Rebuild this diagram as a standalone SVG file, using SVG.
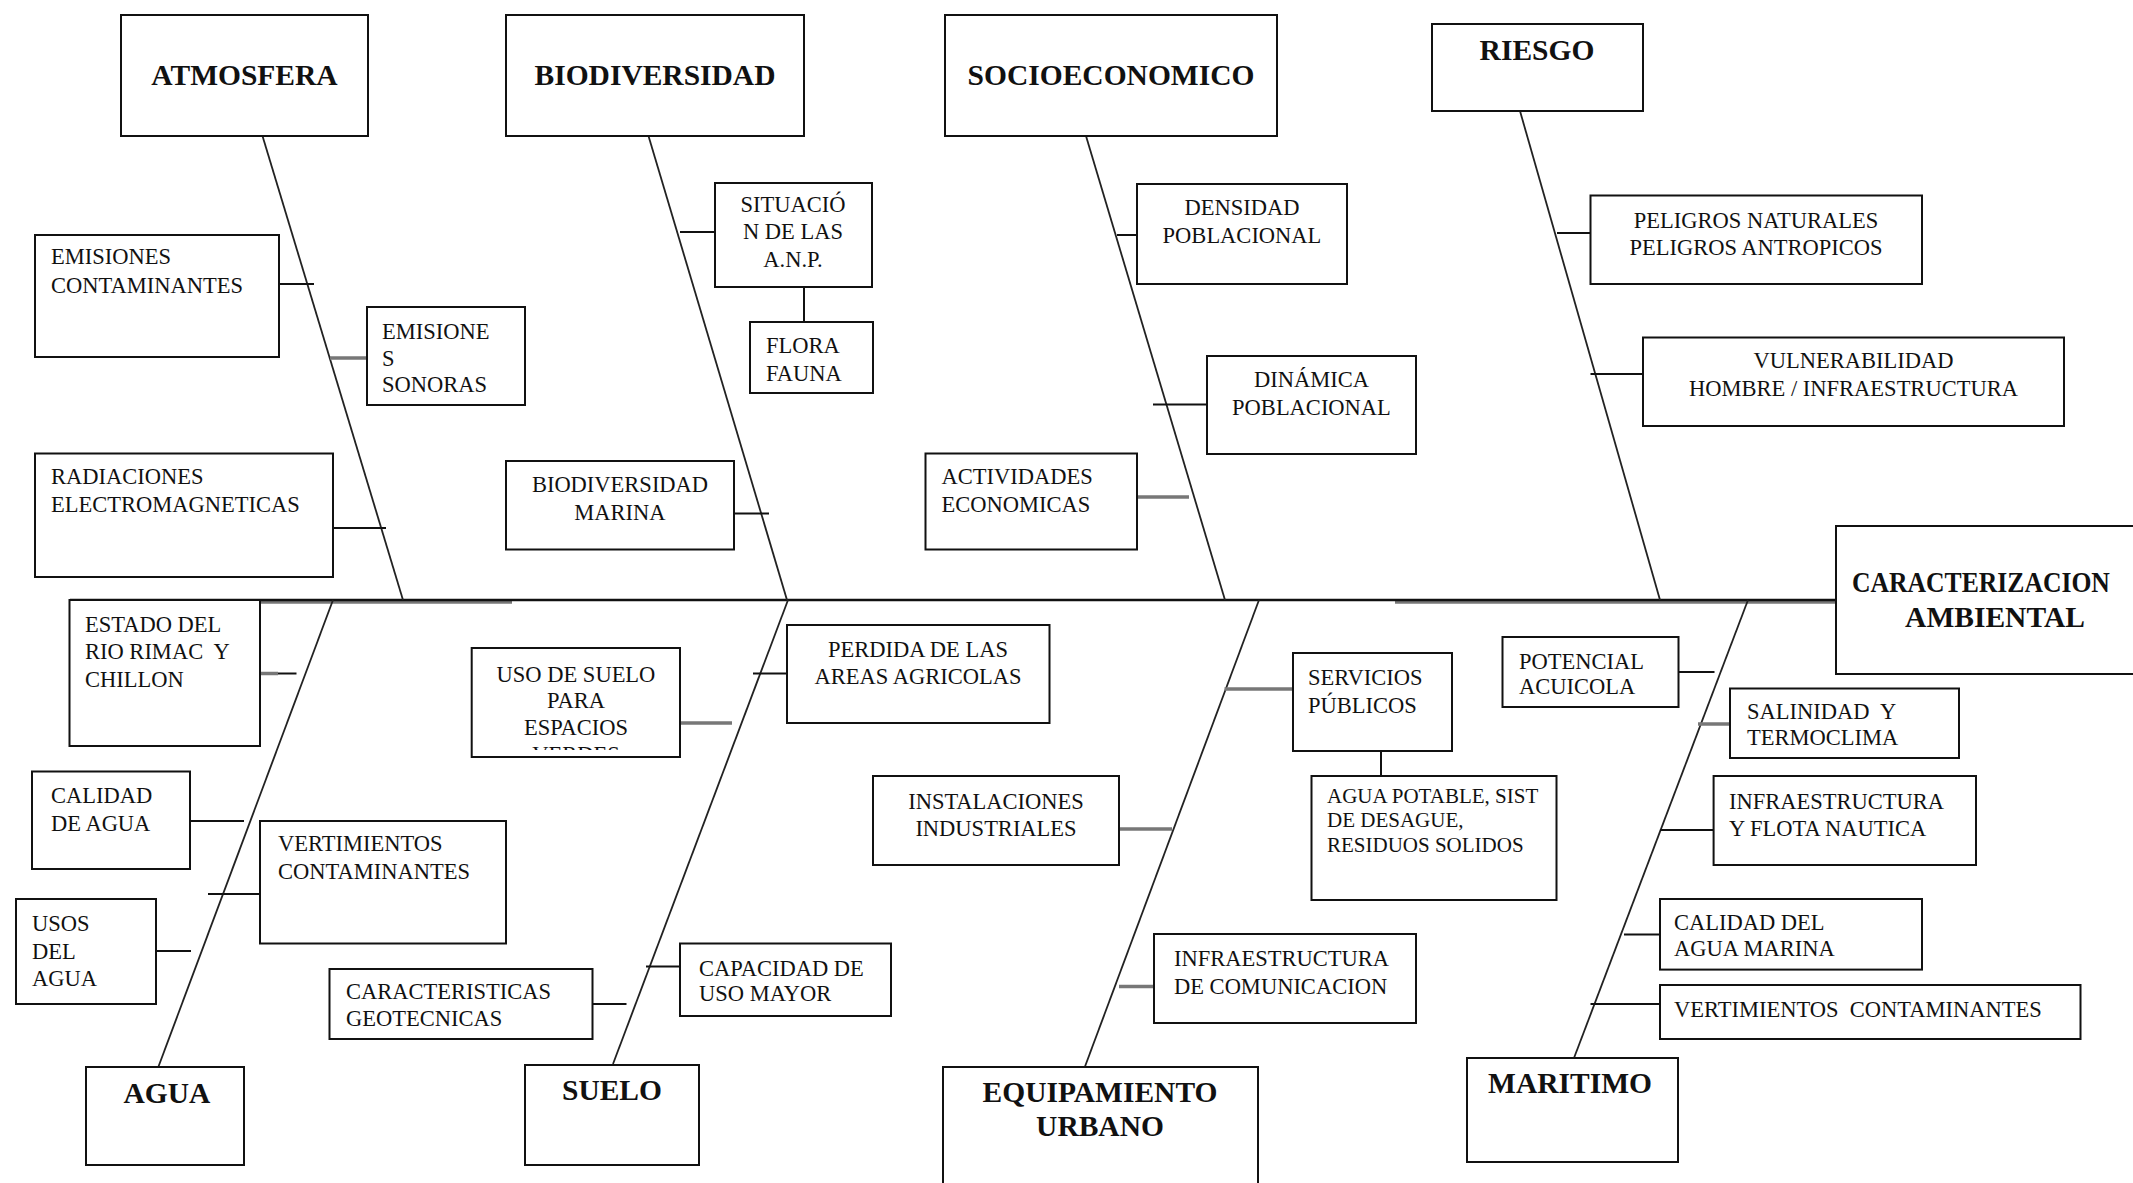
<svg xmlns="http://www.w3.org/2000/svg" width="2133" height="1183" viewBox="0 0 2133 1183">
<style>
.bg{fill:#fff}
.box{fill:#fff;stroke:#111;stroke-width:2}
.t{font-family:"Liberation Serif","Times New Roman",serif;font-size:22.5px;fill:#111;white-space:pre}
.h{font-family:"Liberation Serif","Times New Roman",serif;font-size:29.5px;font-weight:bold;fill:#111;text-anchor:middle}
.c{text-anchor:middle}
.bone{stroke:#222;stroke-width:1.8;fill:none}
.ln{stroke:#111;stroke-width:2;fill:none}
.gl{stroke:#777;stroke-width:3.5;fill:none}
</style>
<defs>
<clipPath id="clipUso"><rect x="473" y="650" width="205" height="100"/></clipPath>
</defs>
<rect class="bg" x="0" y="0" width="2133" height="1183"/>

<g id="connectors">
<line class="gl" x1="260" y1="602" x2="512" y2="602"/>
<line class="gl" x1="1395" y1="602" x2="1836" y2="602"/>
<line class="ln" x1="70" y1="600" x2="1836" y2="600" style="stroke-width:2.5"/>
<line class="bone" x1="262.5" y1="136" x2="403" y2="600"/>
<line class="bone" x1="648.5" y1="136" x2="787" y2="600"/>
<line class="bone" x1="1086" y1="136" x2="1225" y2="600"/>
<line class="bone" x1="1520" y1="111" x2="1660" y2="600"/>
<line class="bone" x1="333" y1="600" x2="158.5" y2="1066.5"/>
<line class="bone" x1="788" y1="600" x2="613" y2="1064"/>
<line class="bone" x1="1259" y1="600" x2="1085" y2="1066.5"/>
<line class="bone" x1="1748" y1="600" x2="1574" y2="1058"/>
<line class="ln" x1="279" y1="284" x2="314" y2="284"/>
<line class="gl" x1="330" y1="358" x2="367" y2="358"/>
<line class="ln" x1="333" y1="528" x2="386" y2="528"/>
<line class="ln" x1="680" y1="232" x2="715" y2="232"/>
<line class="ln" x1="804" y1="287" x2="804" y2="322"/>
<line class="ln" x1="734" y1="513.5" x2="769" y2="513.5"/>
<line class="ln" x1="1117" y1="235" x2="1137" y2="235"/>
<line class="ln" x1="1153" y1="404.5" x2="1207" y2="404.5"/>
<line class="gl" x1="1137" y1="497" x2="1189" y2="497"/>
<line class="ln" x1="1557" y1="233" x2="1590.5" y2="233"/>
<line class="ln" x1="1590.5" y1="374" x2="1643" y2="374"/>
<line class="gl" x1="260" y1="673.5" x2="278" y2="673.5"/>
<line class="ln" x1="278" y1="673.5" x2="296.5" y2="673.5"/>
<line class="ln" x1="190" y1="821" x2="244" y2="821"/>
<line class="ln" x1="208" y1="894" x2="260" y2="894"/>
<line class="ln" x1="156" y1="951" x2="191" y2="951"/>
<line class="gl" x1="680" y1="723" x2="732" y2="723"/>
<line class="ln" x1="753" y1="673.5" x2="787" y2="673.5"/>
<line class="ln" x1="592.5" y1="1004" x2="626.5" y2="1004"/>
<line class="ln" x1="646" y1="966.5" x2="680" y2="966.5"/>
<line class="gl" x1="1224.5" y1="689" x2="1293" y2="689"/>
<line class="ln" x1="1381" y1="751" x2="1381" y2="776"/>
<line class="gl" x1="1119" y1="829" x2="1172" y2="829"/>
<line class="gl" x1="1119" y1="986.5" x2="1154" y2="986.5"/>
<line class="ln" x1="1678.5" y1="672" x2="1714.5" y2="672"/>
<line class="gl" x1="1698" y1="724" x2="1730" y2="724"/>
<line class="ln" x1="1660" y1="830" x2="1713.6" y2="830"/>
<line class="ln" x1="1624" y1="934.6" x2="1660" y2="934.6"/>
<line class="ln" x1="1590.5" y1="1004" x2="1660" y2="1004"/>
</g>

<g id="atmosfera"><rect class="box" x="121" y="15" width="247" height="121"/><text class="h" x="244.5" y="85">ATMOSFERA</text></g>
<g id="biodiversidad"><rect class="box" x="506" y="15" width="298" height="121"/><text class="h" x="655" y="85">BIODIVERSIDAD</text></g>
<g id="socioeconomico"><rect class="box" x="945" y="15" width="332" height="121"/><text class="h" x="1111" y="85">SOCIOECONOMICO</text></g>
<g id="riesgo"><rect class="box" x="1432" y="24" width="211" height="87"/><text class="h" x="1537" y="60">RIESGO</text></g>
<g id="caracterizacion"><rect class="box" x="1836" y="526" width="310" height="148"/><text class="h" transform="translate(1852,592) scale(0.87,1)" x="0" y="0" style="text-anchor:start">CARACTERIZACION</text><text class="h" x="1995" y="627">AMBIENTAL</text></g>

<g id="agua"><rect class="box" x="86" y="1067" width="158" height="98"/><text class="h" x="167" y="1103">AGUA</text></g>
<g id="suelo"><rect class="box" x="525" y="1065" width="174" height="100"/><text class="h" x="612" y="1100">SUELO</text></g>
<g id="equipamiento"><rect class="box" x="943" y="1067" width="315" height="130"/><text class="h" x="1100" y="1102">EQUIPAMIENTO</text><text class="h" x="1100" y="1136">URBANO</text></g>
<g id="maritimo"><rect class="box" x="1467" y="1058" width="211" height="104"/><text class="h" x="1570" y="1093">MARITIMO</text></g>

<g id="emisiones-contaminantes"><rect class="box" x="35" y="235" width="244" height="122"/><text class="t" x="51" y="264">EMISIONES</text><text class="t" x="51" y="293">CONTAMINANTES</text></g>
<g id="emisiones-sonoras"><rect class="box" x="367" y="307" width="158" height="98"/><text class="t" x="382" y="339">EMISIONE</text><text class="t" x="382" y="366">S</text><text class="t" x="382" y="392">SONORAS</text></g>
<g id="radiaciones"><rect class="box" x="35" y="453.5" width="298" height="123.5"/><text class="t" x="51" y="484">RADIACIONES</text><text class="t" x="51" y="512">ELECTROMAGNETICAS</text></g>

<g id="situacion-anp"><rect class="box" x="715" y="183" width="157" height="104"/><text class="t c" x="793" y="212">SITUACIÓ</text><text class="t c" x="793" y="239">N DE LAS</text><text class="t c" x="793" y="267">A.N.P.</text></g>
<g id="flora-fauna"><rect class="box" x="750" y="322" width="123" height="71"/><text class="t" x="766" y="353">FLORA</text><text class="t" x="766" y="381">FAUNA</text></g>
<g id="biodiversidad-marina"><rect class="box" x="506" y="461" width="228" height="88.5"/><text class="t c" x="620" y="492">BIODIVERSIDAD</text><text class="t c" x="620" y="520">MARINA</text></g>

<g id="densidad"><rect class="box" x="1137" y="184" width="210" height="100"/><text class="t c" x="1242" y="215">DENSIDAD</text><text class="t c" x="1242" y="243">POBLACIONAL</text></g>
<g id="dinamica"><rect class="box" x="1207" y="356" width="209" height="98"/><text class="t c" x="1311.5" y="387">DINÁMICA</text><text class="t c" x="1311.5" y="414.5">POBLACIONAL</text></g>
<g id="actividades"><rect class="box" x="925.5" y="453.5" width="211.5" height="96"/><text class="t" x="941.5" y="484">ACTIVIDADES</text><text class="t" x="941.5" y="512">ECONOMICAS</text></g>

<g id="peligros"><rect class="box" x="1590.5" y="195.5" width="331.5" height="88.5"/><text class="t c" x="1756" y="228">PELIGROS NATURALES</text><text class="t c" x="1756" y="254.5">PELIGROS ANTROPICOS</text></g>
<g id="vulnerabilidad"><rect class="box" x="1643" y="337.5" width="421" height="88.5"/><text class="t c" x="1853.5" y="368">VULNERABILIDAD</text><text class="t c" x="1853.5" y="396">HOMBRE / INFRAESTRUCTURA</text></g>

<g id="estado-rio"><rect class="box" x="69.5" y="600" width="190.5" height="146"/><text class="t" x="85" y="632">ESTADO DEL</text><text class="t" x="85" y="659">RIO RIMAC  Y</text><text class="t" x="85" y="687">CHILLON</text></g>
<g id="calidad-agua"><rect class="box" x="32" y="771.5" width="158" height="97.5"/><text class="t" x="51" y="803">CALIDAD</text><text class="t" x="51" y="831">DE AGUA</text></g>
<g id="vertimientos"><rect class="box" x="260" y="821" width="246" height="122.5"/><text class="t" x="278" y="851">VERTIMIENTOS</text><text class="t" x="278" y="879">CONTAMINANTES</text></g>
<g id="usos-agua"><rect class="box" x="16" y="899" width="140" height="105"/><text class="t" x="32" y="931">USOS</text><text class="t" x="32" y="959">DEL</text><text class="t" x="32" y="986">AGUA</text></g>

<g id="uso-suelo"><rect class="box" x="471.7" y="648" width="208.3" height="109"/><g clip-path="url(#clipUso)"><text class="t c" x="576" y="681.7">USO DE SUELO</text><text class="t c" x="576" y="708">PARA</text><text class="t c" x="576" y="735">ESPACIOS</text><text class="t c" x="576" y="762">VERDES</text></g></g>
<g id="perdida"><rect class="box" x="787" y="625" width="262.5" height="98"/><text class="t c" x="918" y="657">PERDIDA DE LAS</text><text class="t c" x="918" y="684">AREAS AGRICOLAS</text></g>
<g id="caracteristicas"><rect class="box" x="329.5" y="969" width="263" height="70"/><text class="t" x="346" y="999">CARACTERISTICAS</text><text class="t" x="346" y="1026">GEOTECNICAS</text></g>
<g id="capacidad"><rect class="box" x="680" y="943.5" width="211" height="72.5"/><text class="t" x="699" y="976">CAPACIDAD DE</text><text class="t" x="699" y="1001">USO MAYOR</text></g>

<g id="servicios"><rect class="box" x="1293" y="653" width="159" height="98"/><text class="t" x="1308" y="685">SERVICIOS</text><text class="t" x="1308" y="713">PÚBLICOS</text></g>
<g id="agua-potable"><rect class="box" x="1311.5" y="776" width="245" height="124"/><text class="t" x="1327" y="803" style="font-size:21px">AGUA POTABLE, SIST</text><text class="t" x="1327" y="827" style="font-size:21px">DE DESAGUE,</text><text class="t" x="1327" y="852" style="font-size:21px">RESIDUOS SOLIDOS</text></g>
<g id="instalaciones"><rect class="box" x="873" y="776" width="246" height="89"/><text class="t c" x="996" y="809">INSTALACIONES</text><text class="t c" x="996" y="836">INDUSTRIALES</text></g>
<g id="infra-comunicacion"><rect class="box" x="1154" y="934" width="262" height="89"/><text class="t" x="1174" y="966">INFRAESTRUCTURA</text><text class="t" x="1174" y="993.5">DE COMUNICACION</text></g>

<g id="potencial"><rect class="box" x="1502.5" y="637" width="176" height="70"/><text class="t" x="1519" y="668.5">POTENCIAL</text><text class="t" x="1519" y="693.5">ACUICOLA</text></g>
<g id="salinidad"><rect class="box" x="1730" y="688.5" width="229" height="69.5"/><text class="t" x="1747" y="719">SALINIDAD  Y</text><text class="t" x="1747" y="745">TERMOCLIMA</text></g>
<g id="infra-flota"><rect class="box" x="1713.6" y="776" width="262.4" height="89"/><text class="t" x="1729" y="809">INFRAESTRUCTURA</text><text class="t" x="1729" y="836">Y FLOTA NAUTICA</text></g>
<g id="calidad-marina"><rect class="box" x="1660" y="899" width="262" height="70.6"/><text class="t" x="1674" y="930">CALIDAD DEL</text><text class="t" x="1674" y="956">AGUA MARINA</text></g>
<g id="vertimientos-mar"><rect class="box" x="1660" y="985" width="420.5" height="54"/><text class="t" x="1674" y="1016.5">VERTIMIENTOS  CONTAMINANTES</text></g>
</svg>
